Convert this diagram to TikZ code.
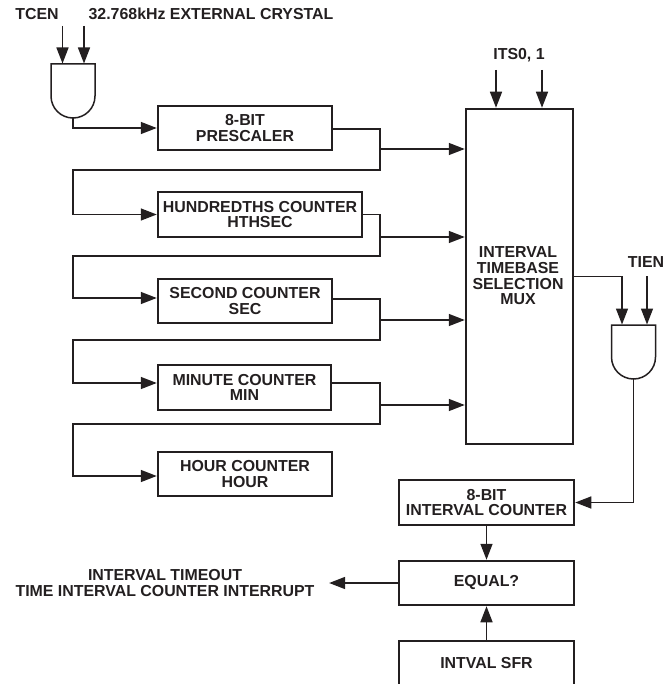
\documentclass[tikz,border=0pt]{standalone}
\usepackage{fontspec}
\setmainfont{Liberation Sans}
\usepackage{xcolor}
\usetikzlibrary{
  arrows.meta,
  calc
}
\definecolor{inkBlack}{HTML}{231F20}
\tikzset{
  block/.style  = {rectangle, draw=inkBlack, line width=1.5pt, inner sep=0pt,
                   align=center, text=inkBlack,
                   font=\fontsize{15.9}{15.6}\selectfont\bfseries},
  tag/.style    = {align=center, inner sep=0pt, text=inkBlack,
                   font=\fontsize{15.9}{15.6}\selectfont\bfseries},
  wire/.style   = {draw=inkBlack, line width=1.5pt},
  arrow/.style  = {-{Triangle[length=16pt, width=12pt]}, wire, shorten >=0.5pt},
  andgate/.pic  = {
    \coordinate (-top) at (0,0);
    \coordinate (-out) at (0,54);
    \draw[wire] (-22,32) -- (-22,0) -- (22,0) -- (22,32)
      .. controls (22,44.2) and (12.2,54) .. (0,54)
      .. controls (-12.2,54) and (-22,44.2) .. (-22,32) -- cycle;
  }
}
\begin{document}
\begin{tikzpicture}[x=1pt, y=-1pt]
  \clip (0,0) rectangle (671,684);
  % Inputs at the top
  \node[tag] (tcen) at (37,14) {TCEN};
  \node[tag] (crystal) at (211,14) {32.768kHz EXTERNAL CRYSTAL};
  \pic (gateA) at (73,64) {andgate};
  \coordinate (tcenIn) at (62.5,26);
  \coordinate (crystalIn) at (84,26);
  \draw[arrow] (tcenIn) -- (tcenIn |- gateA-top);
  \draw[arrow] (crystalIn) -- (crystalIn |- gateA-top);
  % Counter chain, left column
  \foreach \nm/\cx/\cy/\bw/\bh/\txt in {
      pre/245/128/174/44/{8-BIT\\PRESCALER},
      hth/260/214.5/204/45/{HUNDREDTHS COUNTER\\HTHSEC},
      sec/245/301/174/44/{SECOND COUNTER\\SEC},
      mnt/244.5/387.5/173/45/{MINUTE COUNTER\\MIN},
      hour/245/474/174/44/{HOUR COUNTER\\HOUR}}{
    \node[block, minimum width=\bw pt, minimum height=\bh pt] (\nm) at (\cx,\cy) {\txt};
  }
  \draw[arrow] (gateA-out) |- (pre.west);
  % Each stage feeds the next one round a rail
  \foreach \src/\dst/\rail/\outs/\ins in {
      pre/hth/170/-1/0,
      hth/sec/256/0/3,
      sec/mnt/340/2/4.5,
      mnt/hour/424/4.5/-2}{
    \draw[arrow] ([yshift=\outs pt]\src.east) -| (380,\rail) -- (73,\rail)
      |- ([yshift=\ins pt]\dst.west);
  }
  % Selection mux
  \node[rectangle, draw=inkBlack, line width=1.5pt, minimum width=107pt,
        minimum height=335pt] (mux) at (519.5,276.5) {};
  \node[tag] (muxText) at (518,276) {INTERVAL\\TIMEBASE\\SELECTION\\MUX};
  \node[tag] (its) at (519,55) {ITS0, 1};
  \coordinate (itsA) at (496,70);
  \coordinate (itsB) at (542,70);
  \draw[arrow] (itsA) -- (itsA |- mux.north);
  \draw[arrow] (itsB) -- (itsB |- mux.north);
  \foreach \tapY in {149, 237, 320, 405}{
    \coordinate (tap\tapY) at (380,\tapY);
    \draw[arrow] (tap\tapY) -- (tap\tapY -| mux.west);
  }
  % Second gate and the interval counter
  \pic (gateB) at (633.5,325) {andgate};
  \node[tag] (tien) at (646,262) {TIEN};
  \coordinate (muxIn) at (622,325);
  \coordinate (tienIn) at (647,276);
  \draw[arrow] (mux.east) -| (muxIn);
  \draw[arrow] (tienIn) -- (tienIn |- gateB-top);
  \node[block, minimum width=175pt, minimum height=45pt] (cnt) at (486.5,502.5)
       {8-BIT\\INTERVAL COUNTER};
  \node[block, minimum width=175pt, minimum height=44pt] (equal) at (486.5,583) {EQUAL?};
  \node[block, minimum width=175pt, minimum height=45pt] (sfr) at (486.5,663.5) {INTVAL SFR};
  \node[tag] (irq) at (165,583) {INTERVAL TIMEOUT\\TIME INTERVAL COUNTER INTERRUPT};
  \draw[arrow] (gateB-out) |- (cnt.east);
  \draw[arrow] (cnt.south) -- (equal.north);
  \draw[arrow] (sfr.north) -- (equal.south);
  \draw[arrow] (equal.west) -- ([xshift=14pt]irq.east);
\end{tikzpicture}
\end{document}
